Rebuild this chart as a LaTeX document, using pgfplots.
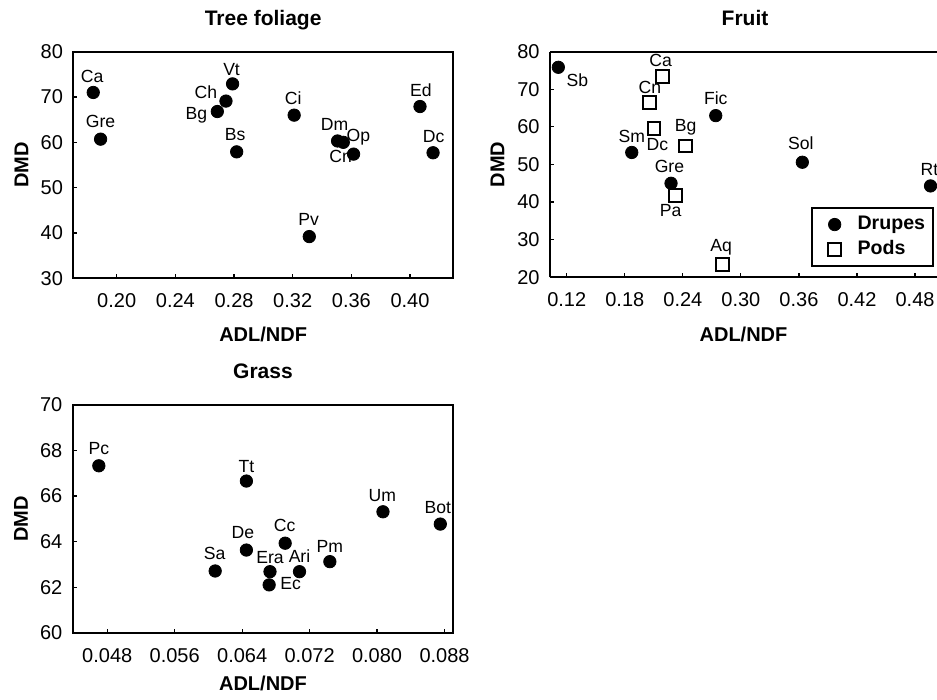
\documentclass[border=0pt]{standalone}
\usepackage{fontspec}
\setmainfont{Liberation Sans}
\usepackage{pgfplots}
\pgfplotsset{compat=1.18}
\pgfplotsset{
  myaxis/.style={
    scale only axis, clip=false,
    axis line style={line width=0.9pt},
    tick align=inside, major tick length=2pt,
    tick style={line width=0.6pt, black},
    xtick pos=bottom, ytick pos=left,
    scaled x ticks=false, scaled y ticks=false,
    /pgf/number format/assume math mode=true,
    ticklabel style={font=\fontsize{10}{11}\selectfont},
    xticklabel style={anchor=base, yshift=-14.8pt, inner sep=0pt},
    yticklabel style={anchor=east, xshift=-5pt, inner sep=0pt},
    label style={font=\fontsize{10}{12}\selectfont\bfseries},
    title style={font=\fontsize{10.5}{12}\selectfont\bfseries, at={(0.5,1)}, anchor=base, yshift=7pt},
    ylabel={DMD}, xlabel={ADL/NDF},
    ylabel style={at={(axis description cs:-0.118,0.5)}, anchor=base},
  },
  lbls/.style={
    nodes near coords, point meta=explicit symbolic,
    visualization depends on={value \thisrow{dx}\as\dx},
    visualization depends on={value \thisrow{dy}\as\dy},
    every node near coord/.append style={font=\fontsize{8.8}{9}\selectfont, anchor=center,
      xshift=\dx pt, yshift=\dy pt, inner sep=0pt, text=black},
  },
  drupe/.style={only marks, mark=*, mark size=3.1pt, black,
    mark options={fill=black, line width=0.4pt}, lbls},
  pod/.style={only marks, mark=square, mark size=3.2pt, black,
    mark options={line width=1pt}, lbls},
}
\begin{document}
\begin{tikzpicture}
\useasboundingbox (0,0) rectangle (468.5pt,350pt);
% Tree foliage
\begin{axis}[myaxis, at={(36.65pt,210.85pt)}, anchor=south west,
  width=189.85pt, height=113.3pt,
  xmin=0.1704, xmax=0.4293, ymin=30, ymax=80,
  xtick={0.20,0.24,0.28,0.32,0.36,0.40}, ytick={30,40,50,60,70,80},
  xticklabel style={/pgf/number format/fixed, /pgf/number format/fixed zerofill, /pgf/number format/precision=2},
  xlabel style={at={(axis description cs:0.5,0)}, anchor=base, yshift=-31.8pt},
  title={Tree foliage}]
\addplot[drupe] table[meta=lbl] {
x y lbl dx dy
0.184 71.0 Ca -0.5 8.2
0.189 60.7 Gre 0 8.8
0.2686 66.8 Bg -10.5 -2
0.2745 69.1 Ch -10 4.5
0.279 72.9 Vt -0.5 7.3
0.2818 57.9 Bs -0.8 8.8
0.321 66.0 Ci -0.5 8.3
0.3313 39.2 Pv -0.3 8.7
0.3506 60.3 Dm -1.5 8.2
0.3545 60.0 Op 7.5 2.5
0.3615 57.4 Cn -6.5 -1.3
0.4068 67.9 Ed 0.5 8.3
0.4157 57.7 Dc 0.3 8.3
};
\end{axis}
% Fruit
\begin{axis}[myaxis, at={(275pt,211.35pt)}, anchor=south west,
  width=193.5pt, height=112.8pt,
  axis x line*=box, axis y line*=left,
  xmin=0.1027, xmax=0.5027, ymin=20, ymax=80,
  xtick={0.12,0.18,0.24,0.30,0.36,0.42,0.48}, ytick={20,30,40,50,60,70,80},
  xticklabel style={/pgf/number format/fixed, /pgf/number format/fixed zerofill, /pgf/number format/precision=2},
  xlabel style={at={(axis description cs:0.5,0)}, anchor=base, yshift=-32.3pt},
  title style={xshift=0.75pt},
  title={Fruit},
  legend cell align=left,
  legend image code/.code={\path (-9pt,0pt) (9pt,0pt); \draw[#1] plot coordinates {(0pt,0pt)};},
  legend style={at={(1,0)}, anchor=south east, xshift=-1.5pt, yshift=5.2pt,
    draw=black, line width=0.9pt, font=\fontsize{9.8}{11}\selectfont\bfseries,
    inner xsep=2pt, inner ysep=2pt, nodes={inner sep=2pt}, cells={anchor=west}}]
\addplot[drupe] table[meta=lbl] {
x y lbl dx dy
0.1113 75.85 Sb 9.5 -6.7
0.1872 53.2 Sm 0 7.8
0.2278 45.0 Gre -0.8 8.3
0.274 63.0 Fic 0 8.7
0.3635 50.6 Sol -0.8 9.7
0.496 44.3 Rt -0.5 8.3
};
\addlegendentry{Drupes}
\addplot[pod] table[meta=lbl] {
x y lbl dx dy
0.2188 73.35 Ca -0.8 8.2
0.2054 66.4 Cn 0.3 7.7
0.2102 59.6 Dc 1.7 -8.2
0.243 54.9 Bg 0 9.2
0.232 41.7 Pa -2.2 -7.2
0.2812 23.3 Aq -0.8 8.7
};
\addlegendentry{Pods}
\end{axis}
% Grass
\begin{axis}[myaxis, at={(36.35pt,33.65pt)}, anchor=south west,
  width=190.3pt, height=113.85pt,
  xmin=0.0439, xmax=0.08904, ymin=60, ymax=70,
  xtick={0.048,0.056,0.064,0.072,0.080,0.088}, ytick={60,62,64,66,68,70},
  xticklabel style={/pgf/number format/fixed, /pgf/number format/fixed zerofill, /pgf/number format/precision=3},
  xlabel style={at={(axis description cs:0.5,0)}, anchor=base, yshift=-29pt},
  title={Grass}]
\addplot[drupe] table[meta=lbl] {
x y lbl dx dy
0.0470 67.33 Pc 0 8.7
0.0645 66.66 Tt 0 7.5
0.0807 65.31 Um -0.3 8.3
0.0875 64.77 Bot -1.2 8.3
0.0691 63.93 Cc -0.3 8.7
0.0645 63.63 De -1.7 8.7
0.0608 62.71 Sa -0.3 8.8
0.0673 62.68 Era 0 7.2
0.0672 62.10 Ec 10.8 0.8
0.0708 62.68 Ari 0 7.8
0.0744 63.12 Pm 0 7.8
};
\end{axis}
\end{tikzpicture}
\end{document}
